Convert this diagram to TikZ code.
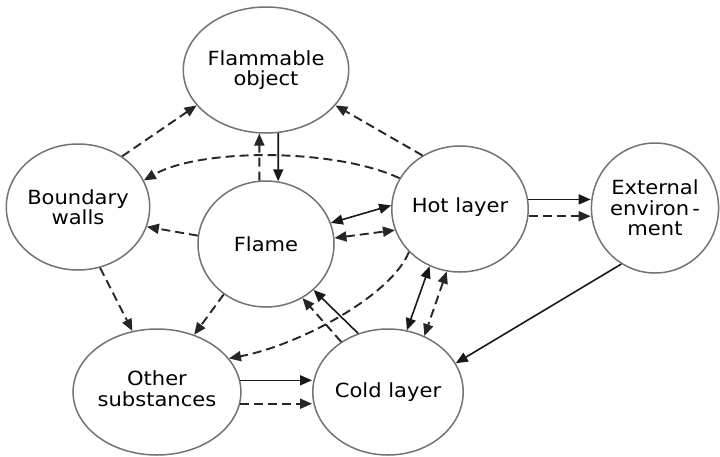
\documentclass[tikz,border=0pt]{standalone}
\usepackage{fontspec}
\newfontfamily\lblfont[FakeStretch=1.08]{DejaVu Sans}
\usetikzlibrary{shapes.geometric,arrows.meta}
\begin{document}
\begin{tikzpicture}[x=1pt,y=-1pt,
  >={Triangle[length=12pt,width=10pt]},
  state/.style={ellipse, draw=black!55, line width=1.5pt, fill=white,
    minimum width=136pt, minimum height=126pt, inner sep=0pt, align=center,
    font=\lblfont\fontsize{19.5}{20.5}\selectfont, text=black},
  sconn/.style={line width=1.6pt, draw=black!90},
  dconn/.style={line width=1.9pt, draw=black!85, dash pattern=on 9pt off 5pt}
]
\fill[white] (0,0) rectangle (720,456);
\useasboundingbox (0,0) rectangle (720,456);

\node[state] (fo) at (266,70) {Flammable\\object};
\node[state] (bw) at (78,207) {Boundary\\walls};
\node[state] (hl) at (460,209) {\raisebox{7pt}{Hot layer}};
\node[state, minimum width=126pt, minimum height=130pt] (ee) at (655,208) {External\\environ\,-\\ment};
\node[state] (fl) at (266,244) {Flame};
\node[state] (os) at (157,392) {\raisebox{9pt}{\begin{tabular}{@{}c@{}}Other\\substances\end{tabular}}};
\node[state] (cl) at (388,392) {Cold layer};

\draw[dconn,->] (bw.49) -- (fo.-153);
\draw[dconn,->] (hl.125) -- (fo.-27);
\draw[dconn,->] (fl.96) -- (fo.-96);
\draw[sconn,->] (fo.-79) -- (fl.79);
\draw[dconn,->] (hl.153) .. controls (335,148) and (200,148) .. (bw.22);
\draw[dconn,->] (fl.173) -- (bw.-16);
\draw[dconn,->] (bw.-70) -- (os.112);
\draw[dconn,->] (fl.-130) -- (os.57);
\draw[dconn,->] (hl.-140) .. controls (392,295) and (300,345) .. (os.25);
\draw[sconn,->] (cl.117) -- (fl.-44);
\draw[dconn,->] (cl.133) -- (fl.-56);
\draw[sconn,<->] (hl.-118) -- (cl.73);
\draw[dconn,<->] (hl.-102) -- (cl.57);
\draw[sconn,<->] (fl.18) -- (hl.177);
\draw[dconn,<->] (fl.5) -- (hl.-162);
\draw[sconn,->] (hl.8) -- (hl.8 -| ee.west);
\draw[dconn,->] (hl.-6) -- (hl.-6 -| ee.west);
\draw[sconn,->] (ee.-121) -- (cl.23);
\draw[sconn,->] (os.8) -- (os.8 -| cl.west);
\draw[dconn,->] (os.-8) -- (os.-8 -| cl.west);
\end{tikzpicture}
\end{document}
